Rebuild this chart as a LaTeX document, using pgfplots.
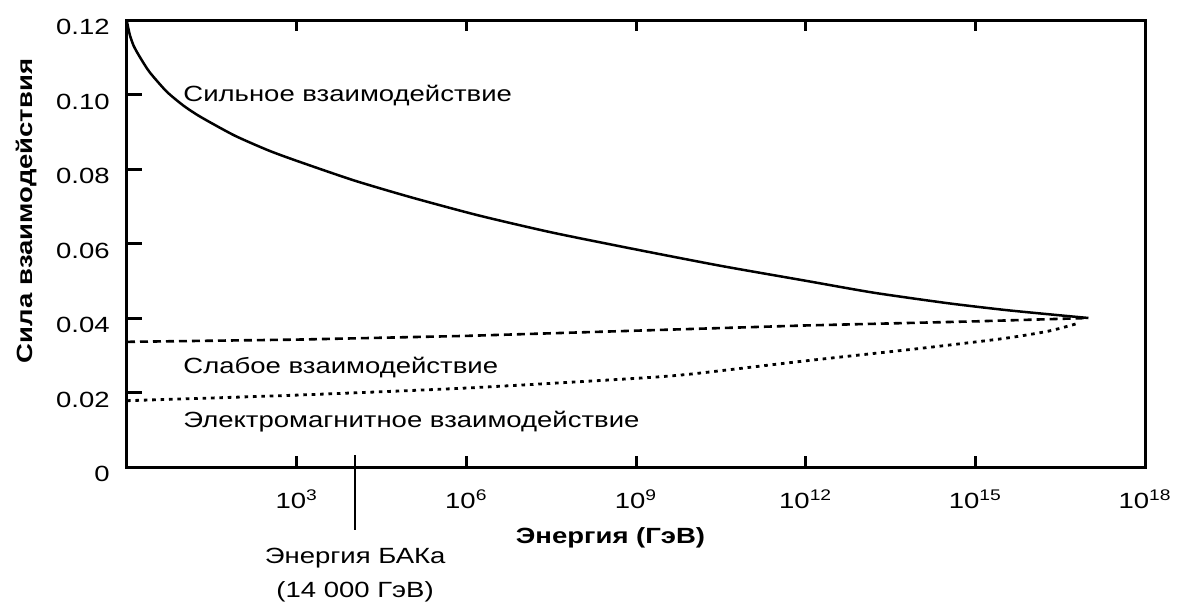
\documentclass[border=0pt]{standalone}
\usepackage{fontspec}
\setmainfont{Liberation Sans}[FakeStretch=1.25]
\usepackage{pgfplots}
\pgfplotsset{compat=1.18}
\begin{document}
\fontsize{11}{13}\selectfont
\begin{tikzpicture}
\useasboundingbox (-63.5pt,-67pt) rectangle (526.5pt,233.5pt);
\begin{axis}[
  at={(0,0)}, anchor=south west,
  scale only axis, width=509pt, height=223.5pt,
  xmode=log, xmin=1, xmax=1e18, ymin=0, ymax=0.12,
  clip=false,
  axis line style={line width=1.5pt},
  tick style={line width=1.5pt, black},
  major tick length=5.5pt,
  ytick style={/pgfplots/major tick length=7.5pt},
  xminorticks=false, yminorticks=false,
  xtick={1e3,1e6,1e9,1e12,1e15,1e18},
  xticklabels={10\textsuperscript{3},10\textsuperscript{6},10\textsuperscript{9},10\textsuperscript{12},10\textsuperscript{15},10\textsuperscript{18}},
  ytick={0,0.02,0.04,0.06,0.08,0.10,0.12},
  yticklabels={0,0.02,0.04,0.06,0.08,0.10,0.12},
  xtick pos=both, ytick pos=left,
  tick align=inside,
  xticklabel style={anchor=base, inner sep=0pt, yshift=-20.5pt},
  yticklabel style={anchor=base east, inner sep=0pt, xshift=-8.5pt, yshift=-7.25pt},
  xlabel={Энергия (ГэВ)},
  ylabel={Сила взаимодействия},
  xlabel style={at={(axis description cs:0.475,0)}, anchor=base, inner sep=0pt, yshift=-38pt, font=\bfseries},
  ylabel style={at={(axis description cs:-0.0992,0.573)}, anchor=center, inner sep=0pt, font=\bfseries},
]
% Strong interaction
\addplot[black, line width=1.25pt, smooth, tension=0.4] coordinates {
  (1,0.1195) (1.122,0.1160) (1.318,0.1130) (1.698,0.1100) (2.512,0.1060)
  (5.012,0.1008) (10,0.0970) (19.95,0.0940) (79.4,0.0890) (316,0.0850)
  (1000,0.0822) (1e4,0.0770) (1e5,0.0725) (1.585e6,0.0676) (3.162e7,0.0630)
  (1e9,0.0584) (3.162e10,0.0540) (1e12,0.0500) (1.585e13,0.0468)
  (3.162e14,0.0440) (3.162e15,0.0422) (2e16,0.0410) (1e17,0.0400)
};
% Weak interaction
\addplot[black, line width=1.3pt, dash pattern=on 4pt off 2.5pt] coordinates {
  (1,0.0336) (1e3,0.0342) (1e6,0.0352) (1e9,0.0366) (1e12,0.0380)
  (1e15,0.0391) (1e17,0.0400)
};
% Electromagnetic interaction
\addplot[black, line width=1.4pt, dash pattern=on 1.8pt off 2.4pt, smooth, tension=0.4] coordinates {
  (1,0.0178) (1e3,0.0193) (1e6,0.0212) (1e9,0.0238) (1e10,0.0250)
  (1e12,0.0285) (1e14,0.0318) (3.16e15,0.0345) (2e16,0.0365) (7e16,0.0387)
};
\node[anchor=base west, inner sep=0pt] at (axis cs:9.8,0.0980) {Сильное взаимодействие};
\node[anchor=base west, inner sep=0pt] at (axis cs:9.8,0.0252) {Слабое взаимодействие};
\node[anchor=base west, inner sep=0pt] at (axis cs:9.8,0.0105) {Электромагнитное взаимодействие};
\draw[black, line width=0.8pt] (axis cs:1.08e4,0.0032) -- (axis cs:1.08e4,-0.0169);
\node[anchor=base, inner sep=0pt, yshift=-48pt] at (axis cs:1.08e4,0) {Энергия БАКа};
\node[anchor=base, inner sep=0pt, yshift=-65pt] at (axis cs:1.08e4,0) {(14 000 ГэВ)};
\end{axis}
\end{tikzpicture}
\end{document}
